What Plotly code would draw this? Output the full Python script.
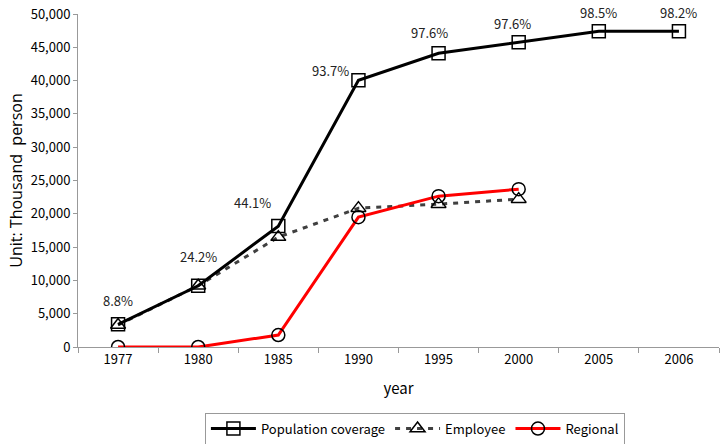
import plotly.graph_objects as go

years = ["1977", "1980", "1985", "1990", "1995", "2000", "2005", "2006"]
population = [3400, 9200, 18150, 40050, 44100, 45750, 47400, 47400]
employee = [3300, 9200, 16500, 20850, 21450, 22200]
regional = [0, 0, 1800, 19500, 22650, 23700]
coverage_labels = ["8.8%", "24.2%", "44.1%", "93.7%", "97.6%", "97.6%", "98.5%", "98.2%"]
y_ticks = [0, 5000, 10000, 15000, 20000, 25000, 30000, 35000, 40000, 45000, 50000]

FONT = "Noto Sans CJK KR"

fig = go.Figure()
fig.add_trace(go.Scatter(
    x=years[:len(employee)], y=employee, name="Employee", mode="lines+markers",
    line=dict(color="#404040", width=3, dash="5px,6px"),
    marker=dict(symbol="triangle-up-open", size=13, color="black", line=dict(width=1.5, color="black")),
    legendrank=2,
))
fig.add_trace(go.Scatter(
    x=years[:len(regional)], y=regional, name="Regional", mode="lines+markers",
    line=dict(color="#ff0000", width=3),
    marker=dict(symbol="circle-open", size=13, color="black", line=dict(width=1.5, color="black")),
    legendrank=3,
))
fig.add_trace(go.Scatter(
    x=years, y=population, name="Population coverage", mode="lines+markers",
    line=dict(color="black", width=3),
    marker=dict(symbol="square-open", size=13, color="black", line=dict(width=1.5, color="black")),
    legendrank=1,
))

# label offsets (pixels) relative to the population points
offsets = [(0, 24), (0, 29), (-26, 24), (-28, 10), (-9, 21), (-6, 19), (0, 19), (0, 19)]
for i, (val, lab, (dx, dy)) in enumerate(zip(population, coverage_labels, offsets)):
    fig.add_annotation(x=i, y=val, text=lab, showarrow=False, xref="x", yref="y",
                       xshift=dx, yshift=dy, xanchor="center", yanchor="middle",
                       font=dict(family=FONT, size=13, color="#222"))

fig.update_layout(
    width=722, height=444,
    margin=dict(l=78, r=3, t=14, b=97, autoexpand=False),
    paper_bgcolor="white", plot_bgcolor="white",
    font=dict(family=FONT, size=13, color="black"),
    showlegend=True,
    legend=dict(orientation="h", x=0.198, y=-0.197, xanchor="left", yanchor="top",
                bordercolor="#999", borderwidth=1, font=dict(size=13, family=FONT),
                itemwidth=45, tracegroupgap=0),
)
fig.update_xaxes(
    type="category", categoryorder="array", categoryarray=years,
    showgrid=False, showline=True, linecolor="#999", linewidth=1,
    ticks="outside", tickson="boundaries", ticklen=5, tickcolor="#999",
    title=dict(text="year", font=dict(size=15, family=FONT), standoff=16),
    tickfont=dict(size=13, family=FONT), range=[-0.5, 7.5], automargin=False,
)
fig.update_yaxes(
    range=[0, 50000], tickvals=y_ticks, tickformat=",d",
    showgrid=False, showline=True, linecolor="#999", linewidth=1,
    ticks="outside", ticklen=4, tickcolor="#999", zeroline=False,
    title=dict(text="Unit: Thousand  person", font=dict(size=16, family="Open Sans"), standoff=4),
    tickfont=dict(size=13, family=FONT), automargin=False,
)

fig.write_html("out.html", config={"displayModeBar": False},
               post_script="document.body.style.margin='0';")
